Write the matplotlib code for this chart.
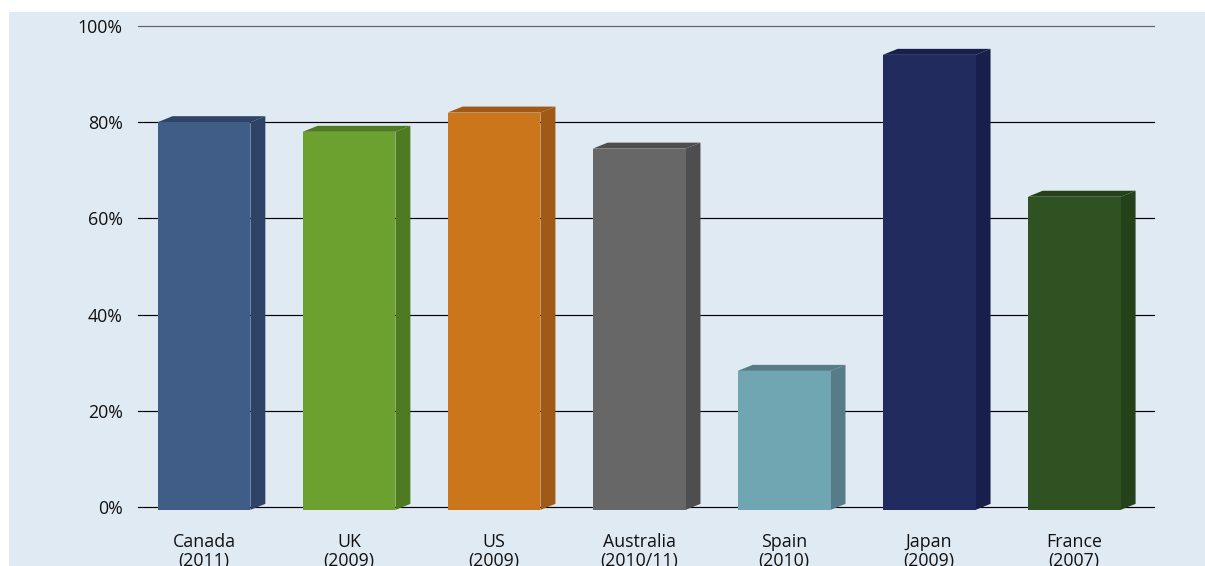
import matplotlib.pyplot as plt
from matplotlib.patches import Polygon, Rectangle

plt.rcParams["font.family"] = ["Open Sans", "DejaVu Sans"]

countries = ["Canada\n(2011)", "UK\n(2009)", "US\n(2009)", "Australia\n(2010/11)",
             "Spain\n(2010)", "Japan\n(2009)", "France\n(2007)"]
values = [80, 78, 82, 74.5, 28.3, 94, 64.5]
front_colors = ["#3f5d87", "#6ca02f", "#cb761b", "#676767", "#6fa6b2", "#212b5e", "#2f5222"]
side_colors = ["#2d4466", "#4e7a22", "#a15a15", "#4e4e4e", "#567d87", "#171f4a", "#244119"]
yticks = [0, 20, 40, 60, 80, 100]

W, H = 1205, 566
fig = plt.figure(figsize=(W / 100, H / 100), dpi=100, facecolor="white")

# light blue panel behind the chart
fig.patches.append(Rectangle((9 / W, 0), 1 - 9 / W, (H - 12) / H,
                             transform=fig.transFigure, facecolor="#e0eaf3",
                             edgecolor="none", zorder=-5))

ax = fig.add_axes([138 / W, (H - 507) / H, (1154 - 138) / W, (507 - 26) / H])
ax.set_facecolor("none")
ax.set_zorder(1)
ax.set_xlim(-0.455, 6.55)
ax.set_ylim(0, 100)

for t in yticks:
    ax.axhline(t, color="#606060" if t == 100 else "black", lw=0.85, zorder=1,
               clip_on=False)

width = 0.64
dx, dy = 0.103, 1.25
base = -0.6
for i, (v, fc, sc) in enumerate(zip(values, front_colors, side_colors)):
    ax.bar(i, v - base, bottom=base, width=width, color=fc, zorder=3, clip_on=False)
    x0, x1 = i - width / 2, i + width / 2
    ax.add_patch(Polygon([(x1, base), (x1 + dx, base + dy), (x1 + dx, v + dy), (x1, v)],
                         closed=True, facecolor=sc, edgecolor="none", zorder=2,
                         clip_on=False))
    ax.add_patch(Polygon([(x0, v), (x1, v), (x1 + dx, v + dy), (x0 + dx, v + dy)],
                         closed=True, facecolor=sc, edgecolor="none", zorder=2,
                         clip_on=False))

ax.set_yticks(yticks)
ax.set_yticklabels([f"{t}%" for t in yticks])
ax.set_xticks(range(len(countries)))
ax.set_xticklabels(countries, linespacing=1.1)
ax.tick_params(axis="y", length=0, pad=11, labelsize=12.8, labelcolor="#111111")
ax.tick_params(axis="x", length=0, pad=18.5, labelsize=12.8, labelcolor="#111111")
for s in ax.spines.values():
    s.set_visible(False)

fig.savefig("out.png", dpi=100)
